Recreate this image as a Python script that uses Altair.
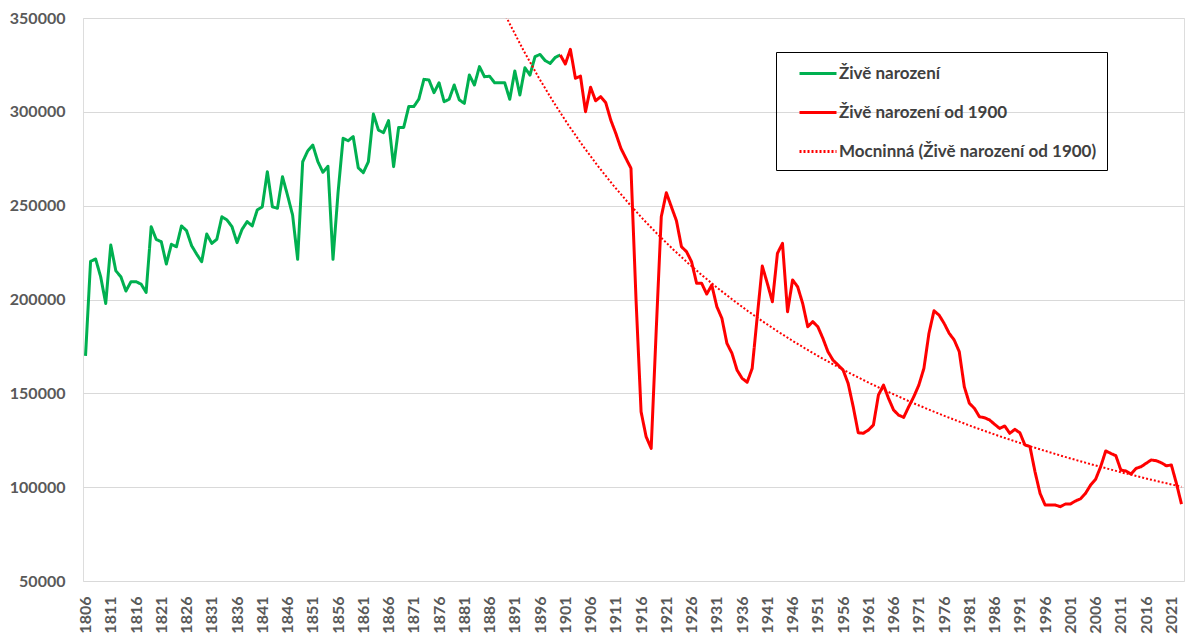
import altair as alt
import pandas as pd

# ---- data -------------------------------------------------------------
green_years = list(range(1806, 1901))
green_births = [
    170000, 220300, 221600, 212100, 197900, 229000, 215300, 212100, 204500, 209500,
    209500, 208200, 203800, 238800, 232000, 230800, 218900, 229400, 228100, 239200,
    236700, 228700, 224200, 220100, 234900, 229900, 232100, 244100, 242400, 238800,
    230300, 237400, 241500, 239200, 247700, 249400, 268100, 249400, 248600, 265400,
    255500, 245000, 221400, 273400, 279200, 282300, 273500, 267800, 271000, 221400,
    257000, 285900, 284600, 286800, 270200, 267600, 273400, 298800, 290300, 288900,
    295300, 270800, 291700, 291700, 302800, 302800, 306800, 317300, 317000, 310200,
    315500, 305400, 306700, 314300, 306400, 304500, 319600, 314300, 324100, 318700,
    319000, 315500, 315500, 315500, 306700, 321800, 309000, 323500, 319600, 329400,
    330600, 327300, 325800, 329000, 330300,
]

red_years = list(range(1900, 2024))
red_births = [
    330300, 325500, 333300, 317900, 319000, 300100, 313100, 305900, 308100, 304900,
    295600, 288500, 280600, 275200, 269900, 200000, 140200, 126900, 120700, 183700,
    244100, 256900, 249400, 242000, 228100, 225500, 220100, 208600, 208600, 202900,
    207700, 196200, 190000, 176600, 171300, 162400, 158000, 155900, 163300, 190800,
    217800, 208600, 198800, 224600, 229900, 193500, 210400, 206800, 197900, 185500,
    188200, 185500, 179300, 172200, 167700, 165100, 162400, 155300, 142900, 129000,
    128700, 130400, 133100, 149100, 154400, 147300, 141100, 138400, 137200, 142900,
    148200, 154400, 163300, 182000, 194000, 191700, 187300, 182000, 178400, 172200,
    153500, 144700, 142000, 137500, 137000, 135800, 133500, 131300, 132600, 128700,
    130800, 129000, 122500, 121600, 108200, 96700, 90500, 90500, 90500, 89600,
    91000, 91000, 92600, 93800, 96700, 101100, 104200, 110900, 119300, 118000,
    116800, 109100, 108600, 107000, 110000, 110900, 112700, 114500, 114100, 113000,
    111400, 111800, 102000, 91000,
]

series_names = [
    "Živě narození",
    "Živě narození od 1900",
    "Mocninná (Živě narození od 1900)",
]
series_colors = ["#00b050", "#ff0000", "#ff0000"]
series_dash = [[1, 0], [1, 0], [2, 2]]

x_ticks = list(range(1806, 2022, 5))
y_ticks = [50000, 100000, 150000, 200000, 250000, 300000, 350000]

df = pd.concat([
    pd.DataFrame({"year": green_years, "births": green_births, "series": series_names[0]}),
    pd.DataFrame({"year": red_years, "births": red_births, "series": series_names[1]}),
])
red_df = pd.DataFrame({"year": red_years, "births": red_births})

FONT = "Lato"

x_enc = alt.X(
    "year:Q",
    scale=alt.Scale(domain=[1805.5, 2023.5], nice=False, zero=False),
    axis=alt.Axis(values=x_ticks, format="d", labelAngle=270, ticks=False, domain=False,
                  grid=False, labelPadding=15, title=None, labelFontSize=16,
                  labelFontWeight="bold", labelColor="#595959", labelFont=FONT,
                  labelOverlap=False),
)
y_enc = alt.Y(
    "births:Q",
    scale=alt.Scale(domain=[50000, 350000], nice=False, zero=False),
    axis=alt.Axis(values=y_ticks, format="d", ticks=False, domain=False, grid=True,
                  gridColor="#d9d9d9", gridWidth=1, labelPadding=18, title=None,
                  labelFontSize=16, labelFontWeight="bold", labelColor="#595959",
                  labelFont=FONT),
)
legend = alt.Legend(
    title=None, orient="none", legendX=693, legendY=34,
    strokeColor="#000000", padding=10, symbolOffset=30,
    symbolType="M-2.8,0L0.9,0", symbolSize=400, symbolStrokeWidth=3,
    labelFont=FONT, labelFontSize=17, labelFontWeight="bold", labelColor="#404040",
    labelOffset=0, rowPadding=19, labelLimit=400,
    labelExpr="datum.label + '\u00a0\u00a0\u00a0'",
)
color_enc = alt.Color("series:N", scale=alt.Scale(domain=series_names, range=series_colors),
                      legend=legend)
dash_enc = alt.StrokeDash("series:N", scale=alt.Scale(domain=series_names, range=series_dash),
                          legend=legend)

lines = alt.Chart(df).mark_line(strokeWidth=3, strokeJoin="round").encode(
    x=x_enc, y=y_enc, color=color_enc, strokeDash=dash_enc
)

trend = (
    alt.Chart(red_df)
    .transform_calculate(t="datum.year - 1805")
    .transform_regression("t", "births", method="pow", extent=[70, 218])
    .transform_calculate(year="datum.t + 1805", series="'%s'" % series_names[2])
    .mark_line(strokeWidth=2, clip=True)
    .encode(x=x_enc, y=y_enc, color=color_enc, strokeDash=dash_enc)
)

chart = (
    alt.layer(lines, trend)
    .properties(width=1101, height=563, autosize="none",
                padding={"left": 75, "top": 10, "right": 8, "bottom": 60})
    .configure_view(stroke=None)
    .configure(background="white")
)

chart.save("out.html", embed_options={"renderer": "svg", "actions": False})
